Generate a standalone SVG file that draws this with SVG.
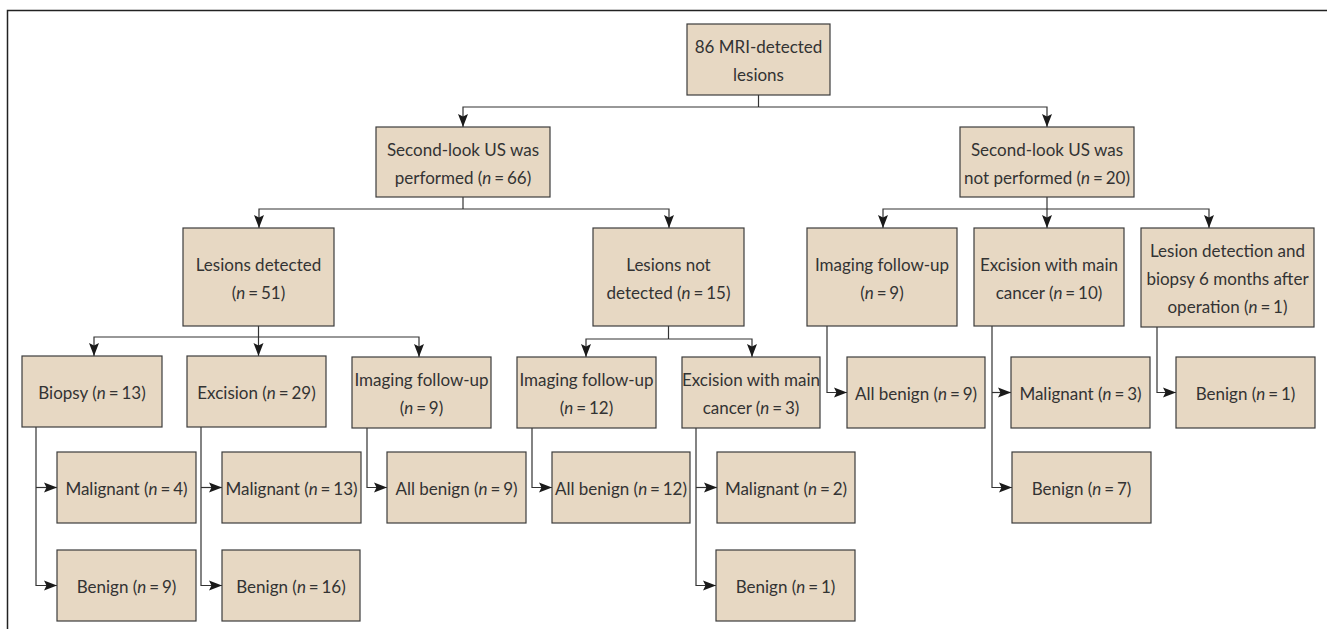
<svg xmlns="http://www.w3.org/2000/svg" width="1327" height="629" viewBox="0 0 1327 629">
<style>
.box{fill:#e7d8c3;stroke:#3c3c3c;stroke-width:1.2}
.t{font-family:Lato,"Liberation Sans",Arial,sans-serif;font-size:17px;fill:#333;text-anchor:middle}
.i{font-style:italic}
.e{word-spacing:-1.5px}
.c{fill:none;stroke:#333;stroke-width:1.2}
.a{marker-end:url(#ah)}
.frame{fill:none;stroke:#222;stroke-width:1.5}
</style>
<defs>
<marker id="ah" viewBox="0 0 13 11" markerWidth="13" markerHeight="11" refX="13" refY="5.5" orient="auto" markerUnits="userSpaceOnUse">
<path d="M0,0.5 L13,5.5 L0,10.5 L2.5,5.5 z" fill="#1a1a1a"/>
</marker>
</defs>
<rect width="1327" height="629" fill="#fff"/>
<path class="frame" d="M7.5,629 V10.5 H1327"/>
<g id="connectors">
<path class="c" d="M758.5,95 V107"/>
<path class="c a" d="M758.5,107 H463 V127"/>
<path class="c a" d="M758.5,107 H1047 V127"/>
<path class="c" d="M463,197 V209"/>
<path class="c a" d="M463,209 H259 V228"/>
<path class="c a" d="M463,209 H669 V228"/>
<path class="c" d="M1047,197 V209"/>
<path class="c a" d="M1047,209 H883 V228"/>
<path class="c a" d="M1047,209 V228"/>
<path class="c a" d="M1047,209 H1209 V228"/>
<path class="c" d="M258.5,326 V337"/>
<path class="c a" d="M258.5,337 H94 V356"/>
<path class="c a" d="M258.5,337 V356"/>
<path class="c a" d="M258.5,337 H419 V357"/>
<path class="c" d="M668.5,326 V339"/>
<path class="c a" d="M668.5,339 H586 V357"/>
<path class="c a" d="M668.5,339 H752 V357"/>
<path class="c a" d="M36,427 V585.5 H57"/>
<path class="c a" d="M36,487.5 H57"/>
<path class="c a" d="M201,427 V585.5 H222"/>
<path class="c a" d="M201,487.5 H222"/>
<path class="c a" d="M367,428 V487.5 H387"/>
<path class="c a" d="M532,428 V487.5 H552"/>
<path class="c a" d="M696,428 V585.5 H716"/>
<path class="c a" d="M696,487.5 H717"/>
<path class="c a" d="M827,326 V392.5 H847"/>
<path class="c a" d="M992,326 V487.5 H1012"/>
<path class="c a" d="M992,392.5 H1011"/>
<path class="c a" d="M1157,327 V392.5 H1176"/>
</g>
<g id="n-root"><rect class="box" x="687" y="24" width="143" height="71"/><text class="t" x="758.5" y="53">86 MRI-detected</text><text class="t" x="758.5" y="81">lesions</text></g>
<g id="n-perf"><rect class="box" x="376" y="127" width="174" height="70"/><text class="t" x="463" y="156">Second-look US was</text><text class="t" x="463" y="184">performed (<tspan class="i">n</tspan><tspan class="e"> = </tspan>66)</text></g>
<g id="n-notperf"><rect class="box" x="960" y="127" width="174" height="70"/><text class="t" x="1047" y="156">Second-look US was</text><text class="t" x="1047" y="184">not performed (<tspan class="i">n</tspan><tspan class="e"> = </tspan>20)</text></g>
<g id="n-det"><rect class="box" x="183" y="228" width="151" height="98"/><text class="t" x="258.5" y="270.5">Lesions detected</text><text class="t" x="258.5" y="298.5">(<tspan class="i">n</tspan><tspan class="e"> = </tspan>51)</text></g>
<g id="n-notdet"><rect class="box" x="593" y="228" width="151" height="98"/><text class="t" x="668.5" y="270.5">Lesions not</text><text class="t" x="668.5" y="298.5">detected (<tspan class="i">n</tspan><tspan class="e"> = </tspan>15)</text></g>
<g id="n-imgR"><rect class="box" x="807" y="228" width="150" height="98"/><text class="t" x="882" y="270.5">Imaging follow-up</text><text class="t" x="882" y="298.5">(<tspan class="i">n</tspan><tspan class="e"> = </tspan>9)</text></g>
<g id="n-excR"><rect class="box" x="974" y="228" width="150" height="98"/><text class="t" x="1049" y="270.5">Excision with main</text><text class="t" x="1049" y="298.5">cancer (<tspan class="i">n</tspan><tspan class="e"> = </tspan>10)</text></g>
<g id="n-lesdet"><rect class="box" x="1141" y="228" width="173" height="99"/><text class="t" x="1227.5" y="257">Lesion detection and</text><text class="t" x="1227.5" y="285">biopsy 6 months after</text><text class="t" x="1227.5" y="313">operation (<tspan class="i">n</tspan><tspan class="e"> = </tspan>1)</text></g>
<g id="n-biopsy"><rect class="box" x="22" y="356" width="140" height="71"/><text class="t" x="92" y="399">Biopsy (<tspan class="i">n</tspan><tspan class="e"> = </tspan>13)</text></g>
<g id="n-exc29"><rect class="box" x="187" y="356" width="139" height="71"/><text class="t" x="256.5" y="399">Excision (<tspan class="i">n</tspan><tspan class="e"> = </tspan>29)</text></g>
<g id="n-imgL"><rect class="box" x="352" y="357" width="139" height="71"/><text class="t" x="421.5" y="386">Imaging follow-up</text><text class="t" x="421.5" y="414">(<tspan class="i">n</tspan><tspan class="e"> = </tspan>9)</text></g>
<g id="n-img12"><rect class="box" x="517" y="357" width="139" height="71"/><text class="t" x="586.5" y="386">Imaging follow-up</text><text class="t" x="586.5" y="414">(<tspan class="i">n</tspan><tspan class="e"> = </tspan>12)</text></g>
<g id="n-exc3"><rect class="box" x="682" y="357" width="138" height="71"/><text class="t" x="751" y="386">Excision with main</text><text class="t" x="751" y="414">cancer (<tspan class="i">n</tspan><tspan class="e"> = </tspan>3)</text></g>
<g id="n-allben9R"><rect class="box" x="847" y="357" width="138" height="71"/><text class="t" x="916" y="400">All benign (<tspan class="i">n</tspan><tspan class="e"> = </tspan>9)</text></g>
<g id="n-mal3"><rect class="box" x="1011" y="357" width="139" height="71"/><text class="t" x="1080.5" y="400">Malignant (<tspan class="i">n</tspan><tspan class="e"> = </tspan>3)</text></g>
<g id="n-ben1R"><rect class="box" x="1176" y="357" width="139" height="71"/><text class="t" x="1245.5" y="400">Benign (<tspan class="i">n</tspan><tspan class="e"> = </tspan>1)</text></g>
<g id="n-mal4"><rect class="box" x="57" y="452" width="139" height="71"/><text class="t" x="126.5" y="495">Malignant (<tspan class="i">n</tspan><tspan class="e"> = </tspan>4)</text></g>
<g id="n-ben9"><rect class="box" x="57" y="550" width="139" height="71"/><text class="t" x="126.5" y="593">Benign (<tspan class="i">n</tspan><tspan class="e"> = </tspan>9)</text></g>
<g id="n-mal13"><rect class="box" x="222" y="452" width="139" height="71"/><text class="t" x="291.5" y="495">Malignant (<tspan class="i">n</tspan><tspan class="e"> = </tspan>13)</text></g>
<g id="n-ben16"><rect class="box" x="222" y="550" width="138" height="71"/><text class="t" x="291" y="593">Benign (<tspan class="i">n</tspan><tspan class="e"> = </tspan>16)</text></g>
<g id="n-allben9"><rect class="box" x="387" y="452" width="139" height="71"/><text class="t" x="456.5" y="495">All benign (<tspan class="i">n</tspan><tspan class="e"> = </tspan>9)</text></g>
<g id="n-allben12"><rect class="box" x="552" y="452" width="138" height="71"/><text class="t" x="621" y="495">All benign (<tspan class="i">n</tspan><tspan class="e"> = </tspan>12)</text></g>
<g id="n-mal2"><rect class="box" x="717" y="452" width="138" height="71"/><text class="t" x="786" y="495">Malignant (<tspan class="i">n</tspan><tspan class="e"> = </tspan>2)</text></g>
<g id="n-ben1"><rect class="box" x="716" y="550" width="139" height="71"/><text class="t" x="785.5" y="593">Benign (<tspan class="i">n</tspan><tspan class="e"> = </tspan>1)</text></g>
<g id="n-ben7"><rect class="box" x="1012" y="452" width="139" height="71"/><text class="t" x="1081.5" y="495">Benign (<tspan class="i">n</tspan><tspan class="e"> = </tspan>7)</text></g>
</svg>
